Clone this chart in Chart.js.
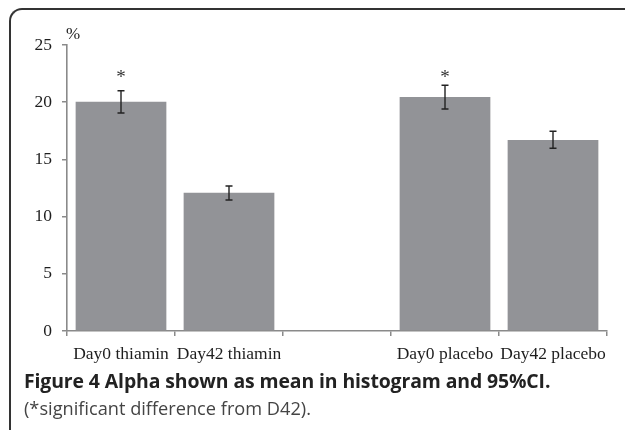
<!DOCTYPE html>
<html>
<head>
<meta charset="utf-8">
<script src="https://cdn.jsdelivr.net/npm/chart.js@4.4.1/dist/chart.umd.min.js"></script>
<style>
  html, body { margin: 0; padding: 0; background: #fff; }
  #wrap { position: relative; width: 625px; height: 430px; overflow: hidden; }
  #frame { position: absolute; left: 9px; top: 8px; width: 700px; height: 500px;
           border-top: 2px solid #333; border-left: 2px solid #333; border-top-left-radius: 13px; }
  #chartBox { position: absolute; left: 0; top: 0; width: 625px; height: 430px; }
  .cap1 { position: absolute; left: 24px; top: 367px; font-family: "Open Sans", sans-serif;
          font-weight: bold; font-size: 19.4px; color: #222; white-space: nowrap; letter-spacing: -0.1px; }
  .cap2 { position: absolute; left: 24px; top: 396px; font-family: "Open Sans", sans-serif;
          font-size: 18.2px; color: #444; white-space: nowrap; }
</style>
</head>
<body>
<div id="wrap">
  <div id="frame"></div>
  <div id="chartBox"><canvas id="c" width="625" height="430"></canvas></div>
  <div class="cap1">Figure 4 Alpha shown as mean in histogram and 95%CI.</div>
  <div class="cap2">(*significant difference from D42).</div>
</div>
<script>
// ---- data ----
const categories = ["Day0 thiamin", "Day42 thiamin", "", "Day0 placebo", "Day42 placebo"];
const meanValues = [20.05, 12.08, null, 20.45, 16.7];
const ciLow      = [19.05, 11.45, null, 19.4, 15.97];
const ciHigh     = [21.0, 12.67, null, 21.48, 17.46];
const sigMarks   = ["*", "", "", "*", ""];
const sigValues  = [22.4, null, null, 22.4, null];
const yTicks     = [0, 5, 10, 15, 20, 25];
const yUnit      = "%";

const serif = "'Liberation Serif', serif";

const errorBarPlugin = {
  id: 'errorBars',
  afterDatasetsDraw(chart) {
    const ctx = chart.ctx;
    const y = chart.scales.y;
    const meta = chart.getDatasetMeta(0);
    ctx.save();
    ctx.strokeStyle = '#222';
    ctx.lineWidth = 1.4;
    meta.data.forEach((bar, i) => {
      if (ciLow[i] == null) return;
      const cx = bar.x;
      const yl = y.getPixelForValue(ciLow[i]);
      const yh = y.getPixelForValue(ciHigh[i]);
      ctx.beginPath();
      ctx.moveTo(cx, yl); ctx.lineTo(cx, yh);
      ctx.moveTo(cx - 3.5, yl); ctx.lineTo(cx + 3.5, yl);
      ctx.moveTo(cx - 3.5, yh); ctx.lineTo(cx + 3.5, yh);
      ctx.stroke();
    });
    // significance marks
    ctx.fillStyle = '#333';
    ctx.font = "19px " + serif;
    ctx.textAlign = 'center';
    ctx.textBaseline = 'middle';
    meta.data.forEach((bar, i) => {
      if (!sigMarks[i]) return;
      ctx.fillText(sigMarks[i], bar.x, y.getPixelForValue(sigValues[i]) + 3);
    });
    // unit label
    ctx.fillStyle = '#222';
    ctx.font = "17px " + serif;
    ctx.textAlign = 'left';
    ctx.fillText(yUnit, chart.chartArea.left - 1, chart.chartArea.top - 10);
    ctx.restore();
  }
};

new Chart(document.getElementById('c'), {
  type: 'bar',
  data: {
    labels: categories,
    datasets: [{
      data: meanValues,
      backgroundColor: '#929397',
      borderWidth: 0,
      barPercentage: 0.84,
      categoryPercentage: 1.0
    }]
  },
  options: {
    responsive: false,
    animation: false,
    events: [],
    layout: { padding: { top: 45, right: 18, left: 0, bottom: 99 - 34 } },
    plugins: { legend: { display: false }, tooltip: { enabled: false } },
    scales: {
      x: {
        offset: true,
        grid: { display: true, drawOnChartArea: false, drawTicks: true, tickLength: 5,
                color: '#8a8a8a', lineWidth: 1.5, offset: true },
        border: { display: true, color: '#8a8a8a', width: 1.6 },
        ticks: { color: '#1e1e1e', font: { family: serif, size: 17.5 }, padding: 8, maxRotation: 0, autoSkip: false },
        afterFit(scale) { scale.height = 34; }
      },
      y: {
        min: 0, max: 25,
        afterBuildTicks(scale) { scale.ticks = yTicks.map(v => ({ value: v })); },
        grid: { display: true, drawOnChartArea: false, drawTicks: true, tickLength: 5,
                color: '#8a8a8a', lineWidth: 1.5 },
        border: { display: true, color: '#8a8a8a', width: 1.6 },
        ticks: { color: '#1e1e1e', font: { family: serif, size: 17.5 }, padding: 10 },
        afterFit(scale) { scale.width = 67; }
      }
    }
  },
  plugins: [errorBarPlugin]
});
</script>
</body>
</html>
